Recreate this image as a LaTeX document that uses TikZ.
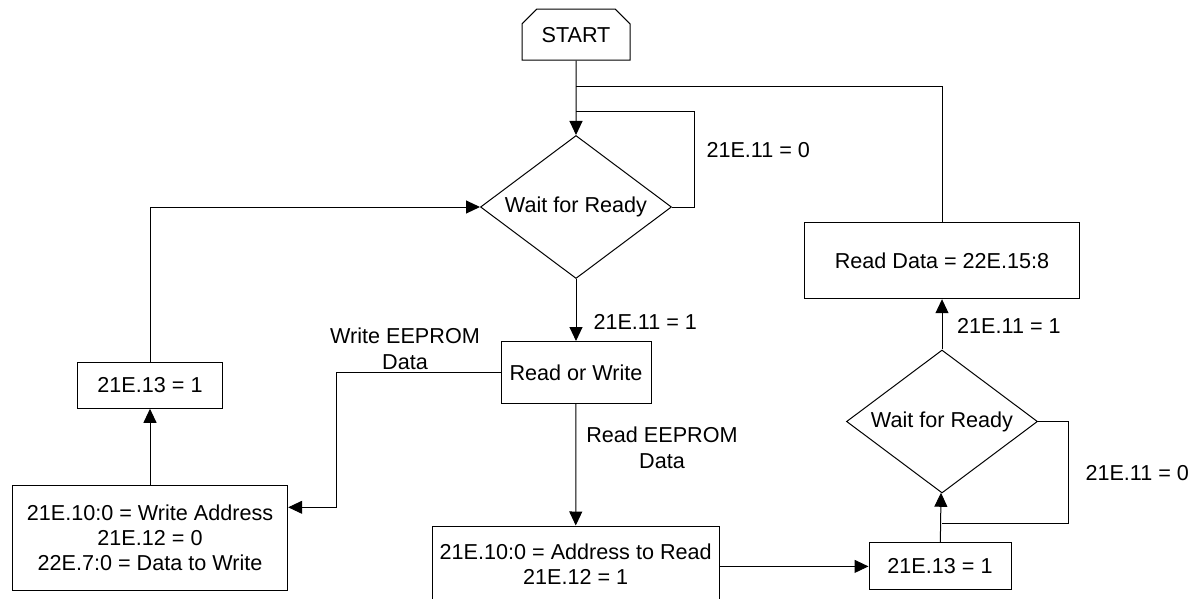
\documentclass[tikz,border=0pt]{standalone}
\usepackage{fontspec}
\setmainfont{Liberation Sans}
\usetikzlibrary{arrows.meta, positioning, shapes.geometric, shapes.misc}

\begin{document}
\begin{tikzpicture}[
  x=0.5pt, y=-0.5pt,
  every node/.style={font=\fontsize{10.8pt}{12.5pt}\selectfont},
  block/.style={draw, rectangle, inner sep=0pt, align=center},
  decision/.style={draw, diamond, inner sep=0pt, shape aspect=1.336,
    minimum width=95.5pt, minimum height=71.5pt},
  terminal/.style={draw, chamfered rectangle, chamfered rectangle corners={north west, north east},
    chamfered rectangle xsep=6pt, inner sep=0pt, minimum width=54pt, minimum height=25.5pt},
  cond/.style={align=center, inner sep=0pt, font=\fontsize{10.8pt}{13pt}\selectfont},
  line width=0.5pt,
  >={Triangle[length=7pt, width=6.5pt]}
]
\useasboundingbox (0,0) rectangle (1193,599);

% Nodes
\node[terminal] (start) at (576,34.7) {START};
\node[decision] (wait1) at (576,207) {Wait for Ready};               % first ready poll
\node[block, minimum width=75pt, minimum height=31pt] (rw) at (576,372.5) {Read or Write};
\node[block, minimum width=72.5pt, minimum height=23pt] (wset) at (150,385.3) {21E.13 = 1};
\node[block, minimum width=137.7pt, minimum height=52.5pt] (waddr) at (150,537.5)
  {21E.10:0 = Write Address\\21E.12 = 0\\22E.7:0 = Data to Write};
\node[block, minimum width=143.5pt, minimum height=38pt] (raddr) at (575.7,564)
  {21E.10:0 = Address to Read\\21E.12 = 1};
\node[block, minimum width=71pt, minimum height=23.5pt] (rset) at (940,566.4) {21E.13 = 1};
\node[decision] (wait2) at (942,421.5) {Wait for Ready};              % second ready poll
\node[block, minimum width=137.5pt, minimum height=38.2pt] (rdata) at (942,260.5) {Read Data = 22E.15:8};

% Bends of the loops
\coordinate (top) at (576,86.7);
\coordinate (loop1) at (694,112);
\coordinate (wbend) at (336,507.3);
\coordinate (loop2) at (1068.3,523.3);

% Labels
\node[cond, anchor=west] (c1) at (706,150) {21E.11 = 0};
\node[cond, anchor=west] (c2) at (593,321.7) {21E.11 = 1};
\node[cond] (c3) at (405,349) {Write EEPROM\\Data};
\node[cond] (c4) at (662,448) {Read EEPROM\\Data};
\node[cond, anchor=west] (c5) at (956.7,326) {21E.11 = 1};
\node[cond, anchor=west] (c6) at (1085,473) {21E.11 = 0};

% Arrows
\draw[->] (start) -- (wait1);
\draw (wait1.east) -| (loop1) -- (loop1 -| wait1.north);   % not ready
\draw[->] (wait1) -- (rw);
\draw[->] (rw.west) -| (wbend) -- (wbend -| waddr.east);   % write path
\draw[->] (waddr) -- (wset);
\draw[->] (wset.north) |- (wait1.west);
\draw[->] (rw) -- (raddr);                                  % read path
\draw[->] (raddr.east |- rset.west) -- (rset.west);
\draw[->] (rset) -- (wait2);
\draw (wait2.east) -| (loop2) -- (loop2 -| wait2.south);   % not ready
\draw[->] (wait2) -- (rdata);
\draw (rdata.north) |- (top);                               % back to start
\end{tikzpicture}
\end{document}
